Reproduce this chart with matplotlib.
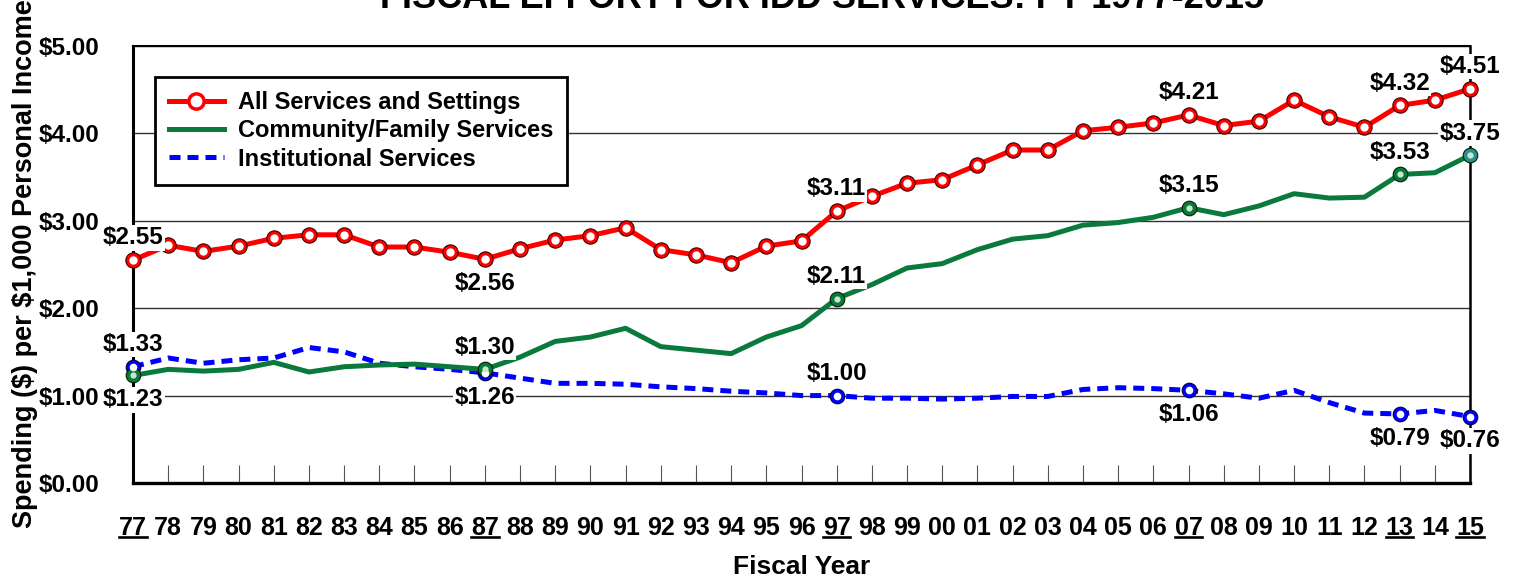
import numpy as np
import matplotlib
matplotlib.use("Agg")
import matplotlib.pyplot as plt
from matplotlib.lines import Line2D

plt.rcParams['font.family'] = ['Liberation Sans', 'DejaVu Sans']
plt.rcParams['font.weight'] = 'bold'

# Fiscal years 1977-2015 (two-digit labels)
years = ['77', '78', '79', '80', '81', '82', '83', '84', '85', '86', '87', '88', '89',
         '90', '91', '92', '93', '94', '95', '96', '97', '98', '99', '00', '01', '02',
         '03', '04', '05', '06', '07', '08', '09', '10', '11', '12', '13', '14', '15']
underlined = ['77', '87', '97', '07', '13', '15']

# Spending ($) per $1,000 personal income
all_services = [2.55, 2.72, 2.65, 2.71, 2.80, 2.84, 2.84, 2.70, 2.70, 2.64, 2.56, 2.68, 2.78,
                2.83, 2.92, 2.67, 2.61, 2.52, 2.71, 2.77, 3.11, 3.28, 3.43, 3.47, 3.64, 3.81,
                3.81, 4.03, 4.07, 4.12, 4.21, 4.09, 4.14, 4.38, 4.19, 4.07, 4.32, 4.38, 4.51]
community = [1.23, 1.30, 1.28, 1.30, 1.38, 1.27, 1.33, 1.35, 1.36, 1.33, 1.30, 1.44, 1.62,
             1.67, 1.77, 1.56, 1.52, 1.48, 1.67, 1.80, 2.11, 2.27, 2.46, 2.51, 2.67, 2.79,
             2.83, 2.95, 2.98, 3.04, 3.15, 3.07, 3.17, 3.31, 3.26, 3.27, 3.53, 3.55, 3.75]
institutional = [1.33, 1.43, 1.37, 1.41, 1.43, 1.55, 1.50, 1.37, 1.33, 1.30, 1.26, 1.20, 1.14,
                 1.14, 1.13, 1.10, 1.08, 1.05, 1.03, 1.00, 1.00, 0.97, 0.97, 0.96, 0.97, 0.99,
                 0.99, 1.07, 1.09, 1.08, 1.06, 1.02, 0.97, 1.06, 0.92, 0.80, 0.79, 0.83, 0.76]

# which years get a value label, and whether it sits above (+1) or below (-1)
label_years = ['77', '87', '97', '07', '13', '15']
red_side = [1, -1, 1, 1, 1, 1]
green_side = [-1, 1, 1, 1, 1, 1]
blue_side = [1, -1, 1, -1, -1, -1]

RED = '#ff0000'
GREEN = '#0a7a3c'
BLUE = '#0000ff'

x = np.arange(len(years))
idx = [years.index(y) for y in label_years]

fig = plt.figure(figsize=(15.15, 5.78), dpi=100)
ax = fig.add_axes([0.0878, 0.1644, 0.8825, 0.756])

# lines
ax.plot(x, institutional, color=BLUE, lw=3.6, dashes=(2.2, 1.4), zorder=3, clip_on=False)
ax.plot(x, community, color=GREEN, lw=3.6, zorder=4, clip_on=False)
ax.plot(x, all_services, color=RED, lw=3.6, zorder=5, clip_on=False)

# markers: red on every year, green/blue only on labelled years
ax.plot(x, all_services, ls='none', marker='o', ms=11, mfc=RED, mec='#400000', mew=0.8,
        zorder=6, clip_on=False)
ax.plot(x, all_services, ls='none', marker='o', ms=6, mfc='white', mec='none',
        zorder=7, clip_on=False)

green_pts = [community[i] for i in idx]
blue_pts = [institutional[i] for i in idx]
green_faces = [GREEN] * 5 + ['#2a8f8f']
for i, xi in enumerate(idx):
    ax.plot(xi, blue_pts[i], ls='none', marker='o', ms=10.5, mfc=BLUE, mec='#000040', mew=0.8,
            zorder=6, clip_on=False)
    ax.plot(xi, blue_pts[i], ls='none', marker='o', ms=5.5, mfc='white', mec='none',
            zorder=7, clip_on=False)
    ax.plot(xi, green_pts[i], ls='none', marker='o', ms=10.5, mfc=green_faces[i], mec='#002000',
            mew=0.8, zorder=6, clip_on=False)
    ax.plot(xi, green_pts[i], ls='none', marker='o', ms=4.5, mfc='#c8e8c8', mec='none',
            zorder=7, clip_on=False)

# value labels with white backing
def add_labels(values, sides):
    for xi, side in zip(idx, sides):
        v = values[xi]
        off = 16 if side > 0 else -17.5
        ax.annotate(f'\\${v:.2f}', (xi, v), xytext=(0, off), textcoords='offset points',
                    ha='center', va='center', fontsize=17.5, fontweight='bold',
                    bbox=dict(boxstyle='square,pad=0.05', fc='white', ec='none'),
                    zorder=10, annotation_clip=False)

add_labels(all_services, red_side)
add_labels(community, green_side)
add_labels(institutional, blue_side)

# axes styling
ax.set_xlim(0, len(years) - 1)
ax.set_ylim(0, 5)
ax.set_yticks([0, 1, 2, 3, 4, 5])
ax.set_yticklabels(['\\$0.00', '\\$1.00', '\\$2.00', '\\$3.00', '\\$4.00', '\\$5.00'])
ax.tick_params(axis='y', length=0, pad=24, labelsize=17.5)
ax.set_xticks(x)
ax.set_xticklabels(years)
ax.tick_params(axis='x', direction='in', length=13, width=0.8, color='#555555', pad=23.5,
               labelsize=18)

ax.yaxis.grid(True, color='#333333', lw=1)
ax.set_axisbelow(True)
for side, lw in [('left', 2.2), ('bottom', 2.4), ('top', 1.5), ('right', 1.8)]:
    ax.spines[side].set_linewidth(lw)
    ax.spines[side].set_color('black')

ax.set_xlabel('Fiscal Year', fontsize=19, fontweight='bold', labelpad=11)
ax.set_ylabel('Spending (\\$) per \\$1,000 Personal Income', fontsize=19.5, fontweight='bold')
ax.yaxis.set_label_coords(-0.071, 0.503)

# underline selected year labels
for yr in underlined:
    xi = years.index(yr)
    ax.add_line(Line2D([xi - 0.39, xi + 0.39], [-0.1236, -0.1236], color='black', lw=1.9,
                       transform=ax.get_xaxis_transform(), clip_on=False))

# legend
handles = [
    Line2D([], [], color=RED, lw=3.6, marker='o', ms=11, mfc='white', mec=RED, mew=2.5),
    Line2D([], [], color=GREEN, lw=3.6),
    Line2D([], [], color=BLUE, lw=3.6, dashes=(2.2, 1.4)),
]
leg = ax.legend(handles, ['All Services and Settings', 'Community/Family Services',
                          'Institutional Services'],
                loc='upper left', bbox_to_anchor=(0.0165, 0.929), borderaxespad=0,
                fontsize=17, fancybox=False, framealpha=1, edgecolor='black',
                handlelength=2.3, labelspacing=0.22, borderpad=0.6, handletextpad=0.6)
leg.get_frame().set_linewidth(2)
leg.set_zorder(12)

fig.text(0.5425, 0.9862, 'FISCAL EFFORT FOR IDD SERVICES: FY 1977-2015', ha='center',
         va='baseline', fontsize=26, fontweight='bold')

fig.savefig('out.png', dpi=100)
